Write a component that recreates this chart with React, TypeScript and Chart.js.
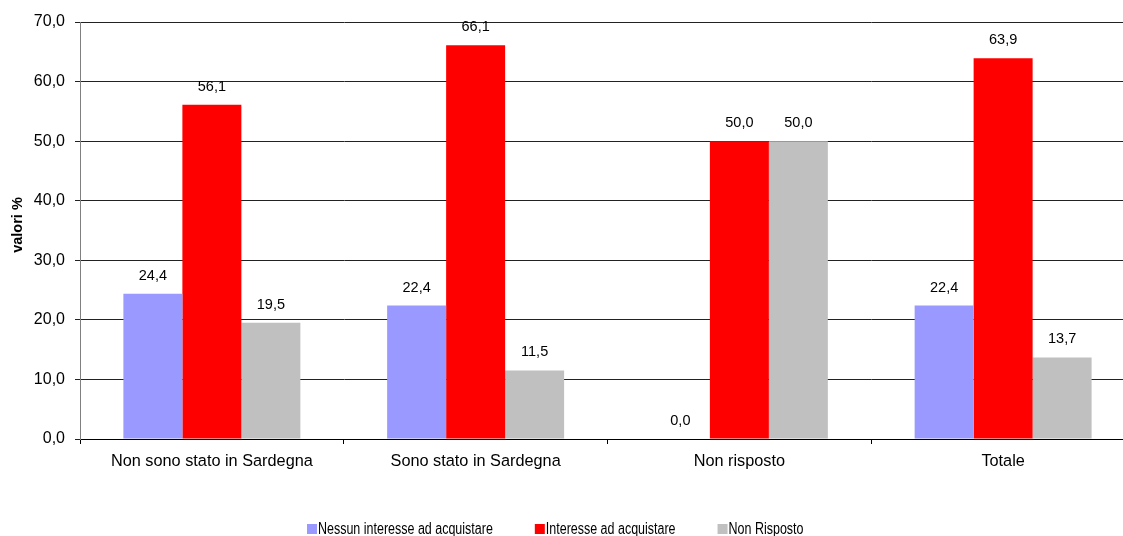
import React, { useEffect, useRef } from 'react';
import { Chart, registerables } from 'chart.js';

Chart.register(...registerables);

const categories = ['Non sono stato in Sardegna', 'Sono stato in Sardegna', 'Non risposto', 'Totale'];
const seriesNames = ['Nessun interesse ad acquistare', 'Interesse ad acquistare', 'Non Risposto'];
const nessunInteresse = [24.4, 22.4, 0.0, 22.4];
const interesse = [56.1, 66.1, 50.0, 63.9];
const nonRisposto = [19.5, 11.5, 50.0, 13.7];
const seriesColors = ['#9999FF', '#FF0000', '#C0C0C0'];
const yMin = 0;
const yMax = 70;
const yStep = 10;
const yTitle = 'valori %';

const FONT = '"Liberation Sans", Arial, sans-serif';
const fmt = (v: number) => v.toFixed(1).replace('.', ',');

const dataLabelPlugin = {
  id: 'dataLabels',
  afterDatasetsDraw(chart: any) {
    const ctx = chart.ctx;
    ctx.save();
    ctx.font = `14.5px ${FONT}`;
    ctx.fillStyle = '#000';
    ctx.textAlign = 'center';
    ctx.textBaseline = 'middle';
    chart.data.datasets.forEach((ds: any, di: number) => {
      const meta = chart.getDatasetMeta(di);
      meta.data.forEach((el: any, i: number) => {
        ctx.fillText(fmt(ds.data[i]), el.x, el.y - 18);
      });
    });
    ctx.restore();
  },
};

const yTitlePlugin = {
  id: 'yTitle',
  afterDraw(chart: any) {
    const ctx = chart.ctx;
    ctx.save();
    ctx.font = `bold 14.5px ${FONT}`;
    ctx.fillStyle = '#000';
    ctx.textAlign = 'center';
    ctx.textBaseline = 'middle';
    ctx.translate(17.5, 225);
    ctx.rotate(-Math.PI / 2);
    ctx.fillText(yTitle, 0, 0);
    ctx.restore();
  },
};

const legendPlugin = {
  id: 'customLegend',
  afterDraw(chart: any) {
    const ctx = chart.ctx;
    ctx.save();
    ctx.font = `16px ${FONT}`;
    ctx.textBaseline = 'alphabetic';
    ctx.textAlign = 'left';
    const squeeze = 0.78;
    let x = 307;
    chart.data.datasets.forEach((ds: any) => {
      ctx.fillStyle = ds.backgroundColor;
      ctx.fillRect(x, 524, 10, 10);
      x += 11;
      const w = ctx.measureText(ds.label).width * squeeze;
      ctx.save();
      ctx.translate(x, 534);
      ctx.scale(squeeze, 1);
      ctx.fillStyle = '#000';
      ctx.fillText(ds.label, 0, 0);
      ctx.restore();
      x += w + 42;
    });
    ctx.restore();
  },
};

export default function App() {
  const canvasRef = useRef<HTMLCanvasElement | null>(null);

  useEffect(() => {
    if (!canvasRef.current) return;
    const series = [nessunInteresse, interesse, nonRisposto];
    const chart = new Chart(canvasRef.current, {
      type: 'bar',
      data: {
        labels: categories,
        datasets: series.map((d, i) => ({
          label: seriesNames[i],
          data: d,
          backgroundColor: seriesColors[i],
          borderWidth: 0,
          categoryPercentage: 0.671,
          barPercentage: 1,
        })),
      },
      options: {
        animation: false,
        responsive: true,
        maintainAspectRatio: false,
        layout: { padding: { top: 22, right: 5, left: 0, bottom: 0 } },
        plugins: {
          legend: { display: false },
          tooltip: { enabled: false },
          title: { display: false },
        },
        scales: {
          x: {
            offset: true,
            afterFit: (scale: any) => {
              scale.height = 97;
            },
            grid: {
              offset: true,
              drawOnChartArea: false,
              drawTicks: true,
              tickLength: 5,
              color: '#000',
              tickColor: '#000',
            },
            border: { display: true, color: '#000', width: 1 },
            ticks: {
              color: '#000',
              font: { family: FONT, size: 16.3 },
              padding: 8,
              maxRotation: 0,
              autoSkip: false,
            },
          },
          y: {
            min: yMin,
            max: yMax,
            afterFit: (scale: any) => {
              scale.width = 80;
            },
            grid: {
              color: '#222',
              tickColor: '#222',
              tickLength: 5,
              drawTicks: true,
            },
            border: { display: true, color: '#808080', width: 1 },
            ticks: {
              stepSize: yStep,
              color: '#000',
              font: { family: FONT, size: 16 },
              padding: 10,
              callback: (v: any) => fmt(Number(v)),
            },
          },
        },
      },
      plugins: [dataLabelPlugin, yTitlePlugin, legendPlugin],
    });
    return () => chart.destroy();
  }, []);

  return (
    <div style={{ position: 'fixed', left: 0, top: 0, width: 1123, height: 536, overflow: 'hidden', background: '#fff' }}>
      <div style={{ position: 'relative', width: 1140, height: 536 }}>
        <canvas ref={canvasRef} />
      </div>
    </div>
  );
}
